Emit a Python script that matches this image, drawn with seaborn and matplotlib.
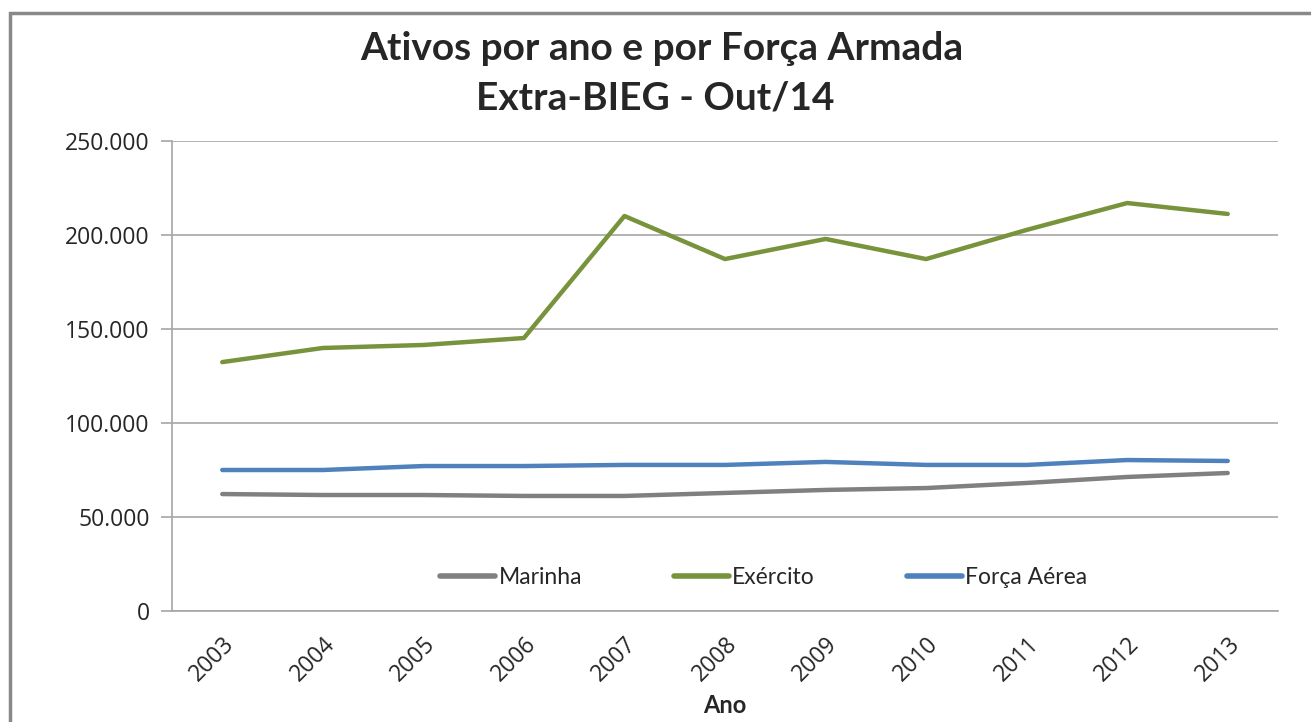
import pandas as pd
import matplotlib
matplotlib.use("Agg")
import matplotlib.pyplot as plt
from matplotlib.patches import Rectangle
from matplotlib.ticker import FuncFormatter, MultipleLocator
import seaborn as sns

anos = ["2003", "2004", "2005", "2006", "2007", "2008", "2009", "2010", "2011", "2012", "2013"]
marinha = [62200, 61700, 61700, 61200, 61200, 62800, 64400, 65400, 68100, 71300, 73400]
exercito = [132400, 139900, 141500, 145200, 210100, 187200, 197900, 187200, 202700, 217000, 211200]
forca_aerea = [75000, 75000, 77100, 77100, 77700, 77700, 79300, 77700, 77700, 80300, 79800]

series = ["Marinha", "Exército", "Força Aérea"]
cores = ["#808080", "#77933C", "#4F81BD"]

df = pd.DataFrame({
    "Ano": anos * 3,
    "Ativos": marinha + exercito + forca_aerea,
    "Força": [series[0]] * 11 + [series[1]] * 11 + [series[2]] * 11,
})

sns.set_style("white")
narrow = ["Liberation Sans Narrow", "Lato", "DejaVu Sans"]
plt.rcParams["font.family"] = ["Open Sans", "DejaVu Sans"]

fig = plt.figure(figsize=(13.11, 7.22), dpi=100)
ax = fig.add_axes([172 / 1311, 1 - 611 / 722, (1278 - 172) / 1311, (611 - 141) / 722])

sns.lineplot(data=df, x="Ano", y="Ativos", hue="Força", palette=cores,
             hue_order=series, linewidth=3.2, ax=ax, sort=False)

ax.set_ylim(0, 250000)
ax.set_xlim(-0.5, 10.5)
ax.yaxis.set_major_locator(MultipleLocator(50000))
ax.yaxis.set_major_formatter(FuncFormatter(lambda v, p: f"{int(v):,}".replace(",", ".")))
ax.grid(axis="y", color="#A6A6A6", linewidth=1.2)
ax.set_axisbelow(True)

for s in ["top", "right"]:
    ax.spines[s].set_visible(False)
for s in ["left", "bottom"]:
    ax.spines[s].set_color("#A6A6A6")
    ax.spines[s].set_linewidth(1.2)

ax.set_xticks(range(len(anos)))
ax.set_xticklabels(anos, rotation=45, ha="right", rotation_mode="anchor", fontsize=16.5)
ax.set_xticks([i - 0.5 for i in range(len(anos) + 1)], minor=True)
ax.tick_params(axis="x", which="major", length=0, pad=15)
ax.tick_params(axis="x", which="minor", length=8, color="#A6A6A6", width=1.2, direction="out")
ax.tick_params(axis="y", length=8, color="#A6A6A6", width=1.2, direction="out", labelsize=16.5, pad=8, left=True)
ax.set_ylabel("")
ax.set_xlabel("Ano", fontsize=17, fontweight="bold", family=narrow, labelpad=6)

leg = ax.legend(loc="lower center", bbox_to_anchor=(0.535, 0.005), ncol=3, frameon=False,
                handlelength=2.4, columnspacing=4.0, handletextpad=0.15,
                prop={"family": narrow, "size": 16.5})
for h in leg.get_lines():
    h.set_linewidth(4)

fig.text(0.505, 1 - 48 / 722, "Ativos por ano e por Força Armada", ha="center", va="center",
         fontsize=28, fontweight="bold", family=narrow)
fig.text(0.5, 1 - 98 / 722, "Extra-BIEG - Out/14", ha="center", va="center",
         fontsize=28, fontweight="bold", family=narrow)

fig.patches.append(Rectangle((10 / 1311, -0.1), 1.2, 1 - 13 / 722 + 0.1, transform=fig.transFigure,
                             fill=False, edgecolor="#888888", linewidth=2.5, figure=fig))

fig.savefig("out.png", dpi=100)
